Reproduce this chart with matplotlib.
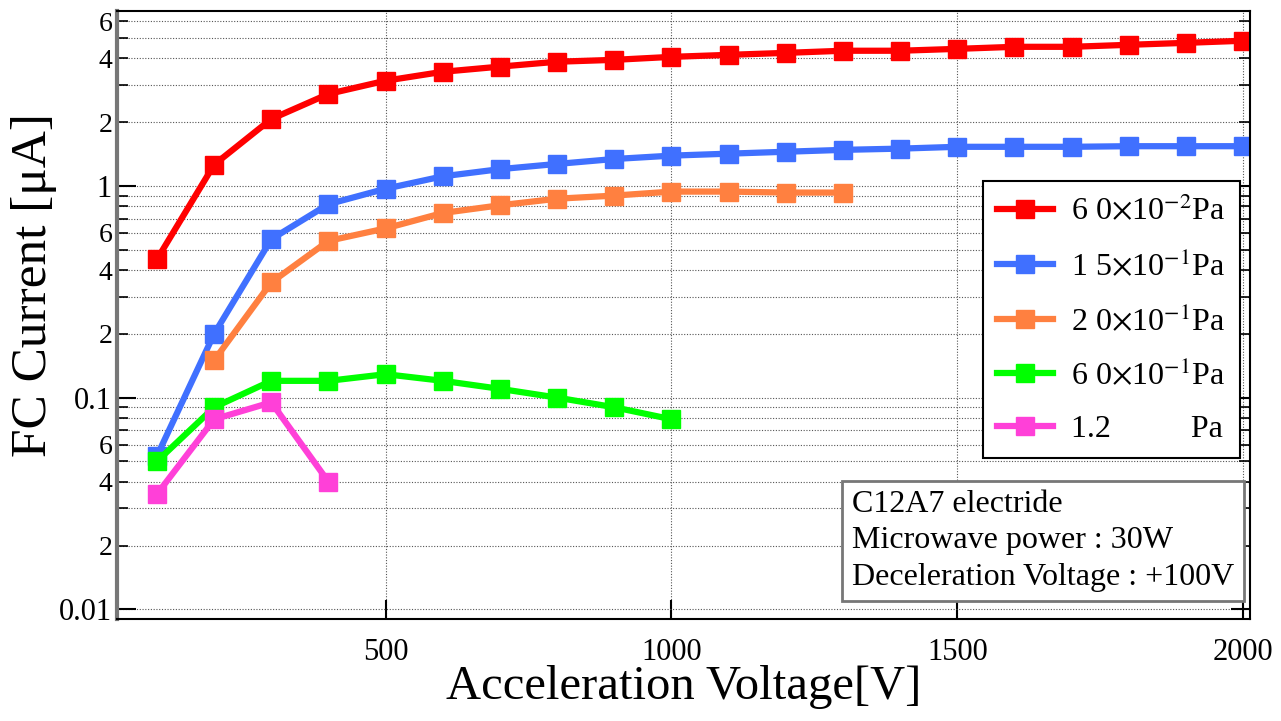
import numpy as np
import matplotlib.pyplot as plt
import matplotlib.ticker as ticker

plt.rcParams['font.family'] = ['Liberation Serif', 'DejaVu Serif']
plt.rcParams['mathtext.fontset'] = 'stix'

# acceleration voltage [V]
v_red = [100, 200, 300, 400, 500, 600, 700, 800, 900, 1000,
         1100, 1200, 1300, 1400, 1500, 1600, 1700, 1800, 1900, 2000]
i_red = [0.45, 1.26, 2.07, 2.72, 3.14, 3.46, 3.66, 3.86, 3.94, 4.07,
         4.16, 4.25, 4.35, 4.35, 4.44, 4.54, 4.54, 4.64, 4.74, 4.85]

v_blue = v_red
i_blue = [0.053, 0.20, 0.56, 0.82, 0.97, 1.11, 1.20, 1.27, 1.34, 1.39,
          1.42, 1.45, 1.48, 1.50, 1.53, 1.53, 1.53, 1.54, 1.54, 1.54]

v_orange = [200, 300, 400, 500, 600, 700, 800, 900, 1000, 1100, 1200, 1300]
i_orange = [0.15, 0.35, 0.55, 0.63, 0.745, 0.81, 0.87, 0.90, 0.94, 0.94, 0.93, 0.93]

v_green = [100, 200, 300, 400, 500, 600, 700, 800, 900, 1000]
i_green = [0.050, 0.090, 0.12, 0.12, 0.129, 0.12, 0.11, 0.10, 0.09, 0.079]

v_pink = [100, 200, 300, 400]
i_pink = [0.035, 0.079, 0.095, 0.040]

labels = [r'6 0$\times$10$^{-2}$Pa', r'1 5$\times$10$^{-1}$Pa',
          r'2 0$\times$10$^{-1}$Pa', r'6 0$\times$10$^{-1}$Pa',
          '1.2          Pa']
colors = ['#ff0000', '#4070ff', '#ff8040', '#00ff00', '#ff40d8']

fig = plt.figure(figsize=(12.81, 7.21), dpi=100)
ax = fig.add_axes([0.0913, 0.1415, 0.8845, 0.8432])

series = [(v_red, i_red), (v_blue, i_blue), (v_orange, i_orange),
          (v_green, i_green), (v_pink, i_pink)]
for (xx, yy), c, lab in zip(series, colors, labels):
    ax.plot(xx, yy, '-s', color=c, lw=4.5, ms=13, label=lab)

ax.set_yscale('log')
ax.set_xlim(30, 2012)
ax.set_ylim(0.009, 6.7)

ax.xaxis.set_major_locator(ticker.FixedLocator([500, 1000, 1500, 2000]))
ax.yaxis.set_major_locator(ticker.LogLocator(base=10, numticks=10))
ax.yaxis.set_minor_locator(ticker.LogLocator(base=10, subs=np.arange(2, 10), numticks=20))

def major_fmt(v, pos):
    return '%g' % v

def minor_fmt(v, pos):
    m = v / 10 ** np.floor(np.log10(v) + 1e-9)
    m = int(round(m))
    return str(m) if m in (2, 4, 6) else ''

ax.yaxis.set_major_formatter(ticker.FuncFormatter(major_fmt))
ax.yaxis.set_minor_formatter(ticker.FuncFormatter(minor_fmt))

ax.tick_params(which='major', direction='in', length=14, width=1.5,
               labelsize=22, right=True, top=False)
ax.tick_params(which='minor', direction='in', length=8, width=1.2,
               labelsize=20, right=True)
ax.tick_params(axis='x', pad=14)
ax.grid(True, which='both', ls=(0, (1, 1.5)), color='#555555', lw=0.8)

for s in ax.spines.values():
    s.set_linewidth(1.5)
ax.spines['left'].set_color('#777777')
ax.spines['left'].set_linewidth(3)

ax.set_xlabel('Acceleration Voltage[V]', fontsize=35, labelpad=-2)
ax.set_ylabel(u'FC Current [\u03bcA]', fontsize=37)
ax.yaxis.set_label_coords(-0.053, 0.55)

leg = ax.legend(loc='upper right', bbox_to_anchor=(0.991, 0.72), fontsize=23,
                handlelength=1.75, handletextpad=0.55, labelspacing=0.72,
                borderpad=0.45, borderaxespad=0,
                fancybox=False, framealpha=1, edgecolor='black')
leg.get_frame().set_linewidth(1.5)

ax.text(0.6485, 0.045, 'C12A7 electride\nMicrowave power : 30W\nDeceleration Voltage : +100V',
        transform=ax.transAxes, fontsize=23, linespacing=1.33, va='bottom', ha='left',
        bbox=dict(boxstyle='square,pad=0.3', fc='white', ec='#777777', lw=2))

fig.savefig('out.png', dpi=100)
